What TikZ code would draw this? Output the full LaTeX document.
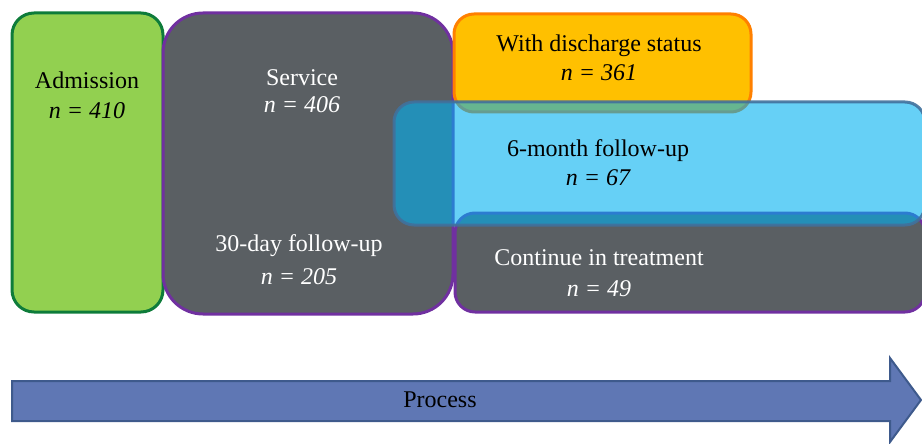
\documentclass[tikz,border=0pt]{standalone}
\usepackage{fontspec}
\setmainfont{Liberation Serif}
\definecolor{admfill}{HTML}{92D050}
\definecolor{admline}{HTML}{0E7C3A}
\definecolor{greyfill}{HTML}{5A5F63}
\definecolor{purpline}{HTML}{7030A0}
\definecolor{disfill}{HTML}{FFC000}
\definecolor{disline}{HTML}{FF8000}
\definecolor{sixfill}{HTML}{00B0F0}
\definecolor{sixline}{HTML}{41719C}
\definecolor{procfill}{HTML}{5F77B4}
\definecolor{procline}{HTML}{3E5A8C}
\tikzset{
  stagebox/.style={line width=3pt, rounded corners=20pt},
  caption/.style={inner sep=0pt, font=\fontsize{24}{28}\selectfont},
  tally/.style={inner sep=0pt, font=\fontsize{24}{28}\selectfont\itshape},
}
\begin{document}
\begin{tikzpicture}[x=1pt, y=-1pt]
	\path[use as bounding box] (0,0) rectangle (922,444);
	\clip (0,0) rectangle (922,444);
	\draw[stagebox, rounded corners=22pt, fill=admfill, draw=admline] (12,13) rectangle (163,312);
	\draw[stagebox, rounded corners=40pt, fill=greyfill, draw=purpline] (163,13) rectangle (453,314);
	\draw[stagebox, fill=disfill, draw=disline] (454,14) rectangle (751,112);
	\draw[stagebox, fill=greyfill, draw=purpline] (455,213) rectangle (925,312);
	\draw[stagebox, fill=sixfill, fill opacity=0.6, draw=sixline, draw opacity=0.9] (394,102) rectangle (925,225);
	\draw[line width=2pt, fill=procfill, draw=procline, line join=miter]
	  (12,381) -- (890,381) -- (890,358) -- (921,400) -- (890,442) -- (890,421) -- (12,421) -- cycle;
	\foreach \nm/\x/\y/\col/\txt in {adm/87/80/black/Admission, srv/302/78/white/Service,
	    fu30/299/246/white/30-day follow-up, dis/599/46/black/With discharge status,
	    fu6/598/151/black/6-month follow-up, cont/599/258/white/Continue in treatment,
	    proc/440/400/black/Process}{%
		\node[caption, text=\col] (\nm) at (\x,\y) {\txt};
	}
	\foreach \nm/\x/\y/\col/\v in {admn/87/111/black/410, srvn/302/105/white/406,
	    fu30n/299/277/white/205, disn/599/73/black/361,
	    fu6n/598/178/black/67, contn/599/289/white/49}{%
		\node[tally, text=\col] (\nm) at (\x,\y) {n = \v};
	}
\end{tikzpicture}
\end{document}
